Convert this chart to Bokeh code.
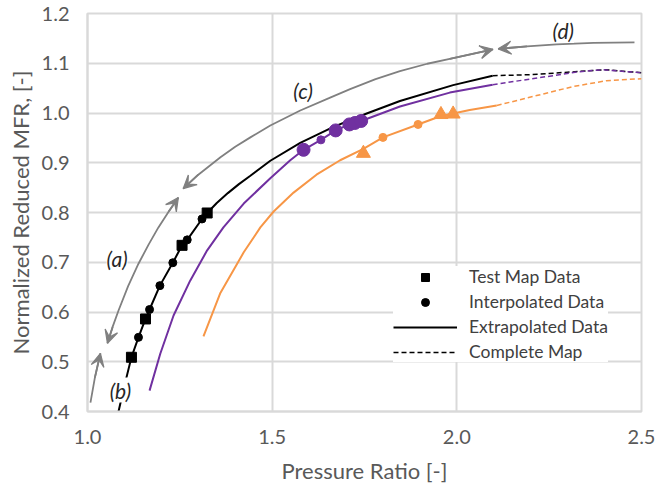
from bokeh.plotting import figure
from bokeh.models import (Range1d, FixedTicker, Legend, LegendItem, Arrow, VeeHead,
                          Label, PrintfTickFormatter)
from bokeh.embed import file_html
from bokeh.resources import INLINE

FONT = "Lato"

# ---------------- data ----------------
x_ticks = [1.0, 1.5, 2.0, 2.5]
y_ticks = [0.4, 0.5, 0.6, 0.7, 0.8, 0.9, 1.0, 1.1, 1.2]

# black speed line (b)
black_x = [1.084, 1.10, 1.119, 1.138, 1.157, 1.168, 1.196, 1.231, 1.256, 1.27, 1.31, 1.324,
           1.35, 1.38, 1.41, 1.441, 1.495, 1.576, 1.666, 1.756, 1.846, 1.99, 2.097]
black_y = [0.400, 0.452, 0.509, 0.549, 0.586, 0.605, 0.653, 0.699, 0.734, 0.745, 0.787, 0.799,
           0.819, 0.839, 0.857, 0.874, 0.904, 0.940, 0.972, 0.999, 1.024, 1.056, 1.075]
black_dash_x = [2.097, 2.2, 2.3, 2.4, 2.5]
black_dash_y = [1.075, 1.077, 1.082, 1.087, 1.081]
black_test_x = [1.119, 1.157, 1.256, 1.324]
black_test_y = [0.509, 0.586, 0.734, 0.799]
black_interp_x = [1.138, 1.168, 1.196, 1.231, 1.27, 1.31]
black_interp_y = [0.549, 0.605, 0.653, 0.699, 0.745, 0.787]

# purple speed line
purple_x = [1.168, 1.197, 1.233, 1.278, 1.324, 1.368, 1.423, 1.495, 1.549, 1.585, 1.632,
            1.672, 1.709, 1.741, 1.846, 1.981, 2.097]
purple_y = [0.442, 0.516, 0.593, 0.663, 0.724, 0.770, 0.818, 0.869, 0.905, 0.926, 0.946,
            0.965, 0.977, 0.984, 1.013, 1.041, 1.057]
purple_dash_x = [2.097, 2.224, 2.332, 2.395, 2.5]
purple_dash_y = [1.057, 1.071, 1.083, 1.087, 1.081]
purple_test_x = [1.585, 1.672, 1.709, 1.724, 1.741]
purple_test_y = [0.926, 0.965, 0.977, 0.980, 0.984]
purple_interp_x = [1.632]
purple_interp_y = [0.946]

# orange speed line
orange_x = [1.314, 1.359, 1.423, 1.468, 1.504, 1.558, 1.62, 1.684, 1.747, 1.80, 1.895,
            1.957, 1.99, 2.035, 2.108]
orange_y = [0.551, 0.637, 0.720, 0.770, 0.802, 0.840, 0.876, 0.905, 0.928, 0.951, 0.977,
            0.994, 0.999, 1.006, 1.015]
orange_dash_x = [2.108, 2.216, 2.314, 2.405, 2.5]
orange_dash_y = [1.015, 1.035, 1.053, 1.065, 1.069]
orange_test_x = [1.747, 1.957, 1.99]
orange_test_y = [0.919, 0.997, 0.998]
orange_interp_x = [1.80, 1.895]
orange_interp_y = [0.951, 0.977]

# grey arrows
arrow_b_x = [1.008, 1.02, 1.035]
arrow_b_y = [0.418, 0.468, 0.517]
arrow_a_x = [1.054, 1.068, 1.084, 1.11, 1.138, 1.165, 1.192, 1.22, 1.246]
arrow_a_y = [0.537, 0.570, 0.603, 0.652, 0.697, 0.735, 0.770, 0.802, 0.830]
arrow_c_x = [1.259, 1.30, 1.36, 1.40, 1.441, 1.495, 1.576, 1.657, 1.711, 1.78, 1.846, 1.92,
             1.981, 2.098]
arrow_c_y = [0.848, 0.876, 0.911, 0.932, 0.951, 0.975, 1.005, 1.031, 1.048, 1.068, 1.084,
             1.099, 1.109, 1.128]
arrow_d_x = [2.481, 2.37, 2.27, 2.19, 2.112]
arrow_d_y = [1.142, 1.141, 1.138, 1.134, 1.129]

BLACK = "black"
PURPLE = "#7030A0"
ORANGE = "#F79646"
GREY = "#808080"
GRID = "#d9d9d9"
TXT = "#595959"

p = figure(width=655, height=488, x_range=Range1d(1.0, 2.5), y_range=Range1d(0.4, 1.2),
           output_backend="svg", toolbar_location=None,
           min_border_left=87, min_border_right=14, min_border_top=13, min_border_bottom=77,
           x_axis_label="Pressure Ratio [-]", y_axis_label="Normalized Reduced MFR, [-]")
p.background_fill_color = "white"
p.border_fill_color = "white"
p.outline_line_color = GRID
p.outline_line_width = 2

p.xaxis.ticker = FixedTicker(ticks=x_ticks)
p.yaxis.ticker = FixedTicker(ticks=y_ticks)
p.xaxis.formatter = PrintfTickFormatter(format="%.1f")
p.yaxis.formatter = PrintfTickFormatter(format="%.1f")
for ax in (p.xaxis, p.yaxis):
    ax.major_tick_line_color = None
    ax.minor_tick_line_color = None
    ax.major_tick_out = 0
    ax.major_tick_in = 0
    ax.axis_line_color = GRID
    ax.axis_line_width = 2
    ax.major_label_text_font = FONT
    ax.major_label_text_font_size = "20px"
    ax.major_label_text_color = TXT
    ax.axis_label_text_font = FONT
    ax.axis_label_text_font_size = "22px"
    ax.axis_label_text_font_style = "normal"
    ax.axis_label_text_color = TXT
p.xaxis.major_label_standoff = 18
p.xaxis.axis_label_standoff = 10
p.yaxis.major_label_standoff = 18
p.yaxis.axis_label_standoff = 5
p.xgrid.grid_line_color = GRID
p.ygrid.grid_line_color = GRID
p.xgrid.grid_line_width = 2
p.ygrid.grid_line_width = 2

# grey arrow curves
for xs, ys in [(arrow_b_x, arrow_b_y), (arrow_a_x, arrow_a_y),
               (arrow_c_x, arrow_c_y), (arrow_d_x, arrow_d_y)]:
    p.line(xs, ys, line_color=GREY, line_width=1.8)


def add_head(xs, ys, at_end=True):
    if at_end:
        x0, y0, x1, y1 = xs[-2], ys[-2], xs[-1], ys[-1]
    else:
        x0, y0, x1, y1 = xs[1], ys[1], xs[0], ys[0]
    p.add_layout(Arrow(end=VeeHead(size=13, fill_color=GREY, line_color=GREY, line_width=1.2),
                       x_start=x0, y_start=y0, x_end=x1, y_end=y1,
                       line_color=GREY, line_width=1.8))


add_head(arrow_b_x, arrow_b_y, True)
add_head(arrow_a_x, arrow_a_y, True)
add_head(arrow_a_x, arrow_a_y, False)
add_head(arrow_c_x, arrow_c_y, True)
add_head(arrow_c_x, arrow_c_y, False)
add_head(arrow_d_x, arrow_d_y, True)

# dashed complete map
blk_dash = p.line(black_dash_x, black_dash_y, line_color=BLACK, line_width=1.5, line_dash="5 3")
p.line(orange_dash_x, orange_dash_y, line_color=ORANGE, line_width=1.5, line_dash="5 3")
p.line(purple_dash_x, purple_dash_y, line_color=PURPLE, line_width=1.5, line_dash="5 3")

# solid extrapolated lines
p.line(orange_x, orange_y, line_color=ORANGE, line_width=2)
p.line(purple_x, purple_y, line_color=PURPLE, line_width=2)
blk_line = p.line(black_x, black_y, line_color=BLACK, line_width=2)

# markers
p.scatter(orange_interp_x, orange_interp_y, marker="circle", size=8, color=ORANGE)
p.scatter(orange_test_x, orange_test_y, marker="triangle", size=14, color=ORANGE)
p.scatter(purple_interp_x, purple_interp_y, marker="circle", size=8, color=PURPLE)
p.scatter(purple_test_x, purple_test_y, marker="circle", size=13, color=PURPLE)
blk_int = p.scatter(black_interp_x, black_interp_y, marker="circle", size=8, color=BLACK)
blk_test = p.scatter(black_test_x, black_test_y, marker="square", size=10, color=BLACK)

# annotations
for tx, ty, t in [(1.080, 0.707, "(a)"), (1.089, 0.443, "(b)"),
                  (1.584, 1.045, "(c)"), (2.288, 1.166, "(d)")]:
    p.add_layout(Label(x=tx, y=ty, text=t, text_font=FONT, text_font_style="italic",
                       text_font_size="21px", text_color="#262626", text_align="center",
                       text_baseline="middle", background_fill_color="white"))

legend = Legend(items=[LegendItem(label="Test Map Data", renderers=[blk_test]),
                       LegendItem(label="Interpolated Data", renderers=[blk_int]),
                       LegendItem(label="Extrapolated Data", renderers=[blk_line]),
                       LegendItem(label="Complete Map", renderers=[blk_dash])],
                location=(306, 49), padding=4, margin=0, spacing=4,
                glyph_width=64, glyph_height=20, label_height=20, label_standoff=12,
                label_text_font=FONT, label_text_font_size="17.5px", label_text_color="#404040",
                border_line_color=None, background_fill_color="white", background_fill_alpha=1)
p.add_layout(legend)

open("out.html", "w").write(file_html(p, INLINE))
